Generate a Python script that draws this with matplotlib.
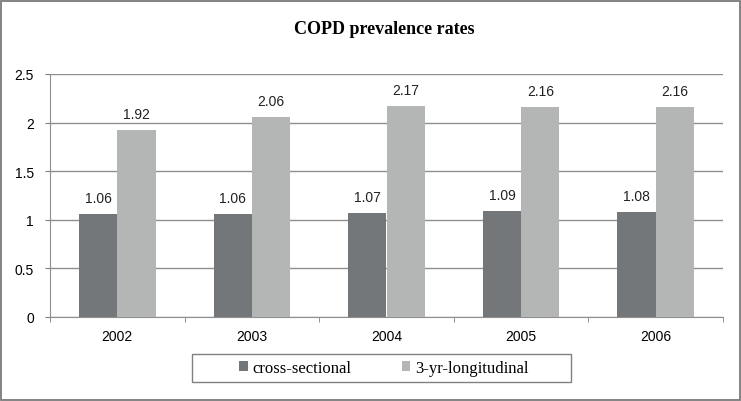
import matplotlib
matplotlib.use("Agg")
import matplotlib.pyplot as plt
import numpy as np
from matplotlib.patches import Rectangle

years = ["2002", "2003", "2004", "2005", "2006"]
cross_sectional = [1.06, 1.06, 1.07, 1.09, 1.08]
longitudinal = [1.92, 2.06, 2.17, 2.16, 2.16]
series_names = ["cross-sectional", "3-yr-longitudinal"]
yticks = [0, 0.5, 1, 1.5, 2, 2.5]

dark = "#747779"
light = "#b4b5b5"
W, H = 741, 402

fig = plt.figure(figsize=(W/100, H/100), dpi=100)
fig.patches.append(Rectangle((0.5/W, 1.5/H), 739/W, 399/H, transform=fig.transFigure,
                             fill=False, edgecolor="#7a7a7a", linewidth=1.3))
ax = fig.add_axes([50/W, 1-318/H, (723-50)/W, (318-75)/H])

x = np.arange(len(years))
w = 0.285
b1 = ax.bar(x - w/2, cross_sectional, w, color=dark, label=series_names[0], zorder=3)
b2 = ax.bar(x + w/2, longitudinal, w, color=light, label=series_names[1], zorder=3)

for bars, vals in ((b1, cross_sectional), (b2, longitudinal)):
    for rect, v in zip(bars, vals):
        ax.annotate(f"{v:.2f}",
                    (rect.get_x() + rect.get_width()/2, v),
                    xytext=(0, 6.5), textcoords="offset points",
                    ha="center", va="bottom", fontsize=10,
                    family="Liberation Sans", color="#222222")

ax.set_xlim(-0.5, len(years) - 0.5)
ax.set_ylim(0, 2.5)
ax.set_yticks(yticks)
ax.set_yticklabels([f"{t:g}" for t in yticks], family="Liberation Sans", fontsize=10)
ax.grid(axis="y", color="#8f8f8f", linewidth=1.0, zorder=0)
ax.set_axisbelow(True)

ax.set_xticks(x)
ax.set_xticklabels(years, family="Liberation Sans", fontsize=10)
ax.tick_params(axis="x", which="major", length=0, pad=9)
ax.set_xticks(np.arange(-0.5, len(years)), minor=True)
ax.tick_params(axis="x", which="minor", length=3.5, color="#808080", direction="out")
ax.tick_params(axis="y", length=3.5, color="#808080", pad=8)

for s in ("top", "right"):
    ax.spines[s].set_visible(False)
ax.spines["left"].set_color("#8f8f8f")
ax.spines["bottom"].set_color("#8f8f8f")

fig.text(384/W, 1-29/H, "COPD prevalence rates", ha="center", va="center",
         family="Liberation Serif", fontweight="bold", fontsize=13)

# legend box
fig.patches.append(Rectangle((192/W, 1-383/H), (571-192)/W, (383-355)/H,
                             transform=fig.transFigure, fill=False,
                             edgecolor="#808080", linewidth=1.0))
leg = fig.legend(handles=[b1, b2], labels=series_names, loc="center",
                 bbox_to_anchor=(384/W, 1-369/H), ncol=2, frameon=False,
                 prop={"family": "Liberation Serif", "size": 12},
                 handlelength=0.5, handleheight=0.5, handletextpad=0.3,
                 columnspacing=3.0, borderpad=0.0)

fig.savefig("out.png", dpi=100)
